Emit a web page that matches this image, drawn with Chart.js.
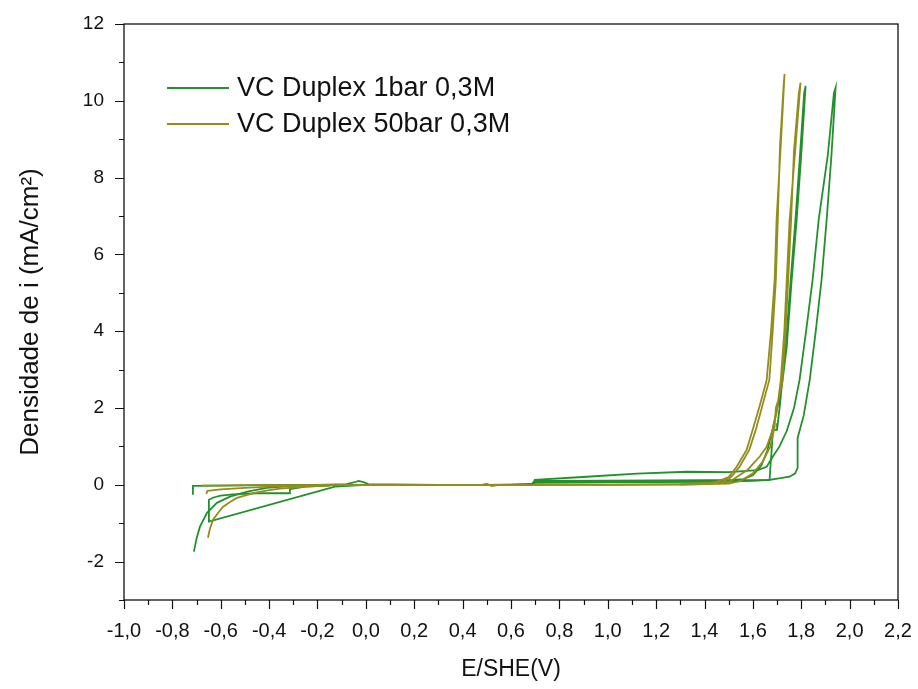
<!DOCTYPE html>
<html>
<head>
<meta charset="utf-8">
<title>VC Duplex</title>
<script src="https://cdn.jsdelivr.net/npm/chart.js@4.4.0/dist/chart.umd.min.js"></script>
<style>
  html, body { margin: 0; padding: 0; background: #fff; }
  #wrap { width: 918px; height: 689px; }
</style>
</head>
<body>
<div id="wrap"><canvas id="chart" width="918" height="689"></canvas></div>
<script>
/* ── DATA ── */
const legendLabels = ['VC Duplex 1bar 0,3M', 'VC Duplex 50bar 0,3M'];

/* 1 bar, cycle A : cathodic branch -> loop peaking at 1,82 V */
const e1barA = [-0.711, -0.700, -0.686, -0.657, -0.616, -0.562, -0.490, -0.410, -0.300, -0.200, -0.080, -0.050, -0.030, -0.010, 0.010, 0.300, 0.600, 0.680,
  0.700, 1.000, 1.300, 1.500, 1.560, 1.600, 1.635, 1.660, 1.680, 1.697, 1.718, 1.740, 1.760, 1.781, 1.800, 1.818,
  1.812, 1.795, 1.776, 1.756, 1.736, 1.722, 1.711, 1.703, 1.700, 1.682, 1.680, 1.674, 1.669, 1.640, 1.400, 1.000, 0.750, 0.700, 0.690, 0.500];
const i1barA = [-1.74, -1.40, -1.09, -0.73, -0.47, -0.31, -0.18, -0.08, -0.03, 0.00, 0.02, 0.06, 0.10, 0.07, 0.02, 0.00, 0.00, 0.01,
  0.08, 0.09, 0.10, 0.12, 0.15, 0.25, 0.50, 0.90, 1.40, 1.90, 2.47, 3.60, 5.30, 6.90, 8.60, 10.39,
  10.20, 8.60, 6.90, 5.30, 3.60, 2.73, 2.03, 1.60, 1.43, 1.43, 1.10, 0.60, 0.13, 0.12, 0.12, 0.11, 0.10, 0.10, 0.02, 0.00];

/* 1 bar, cycle B : start at -0,71 V -> loop peaking at 1,94 V -> return */
const e1barB = [-0.715, -0.715, -0.600, -0.450, -0.300, 0.000, 0.300, 0.600, 0.690, 0.700, 0.900, 1.200, 1.450, 1.600, 1.669, 1.752, 1.775, 1.785,
  1.785, 1.810, 1.835, 1.860, 1.884, 1.905, 1.925, 1.942, 1.935, 1.910, 1.872, 1.847, 1.820, 1.793, 1.770, 1.740, 1.710, 1.682, 1.657, 1.620,
  1.500, 1.327, 1.120, 0.913, 0.698, 0.690, 0.600, 0.300, 0.000, -0.128, -0.649, -0.649, -0.630, -0.600, -0.550, -0.450, -0.314, -0.314, -0.250, -0.150];
const i1barB = [-0.26, -0.03, -0.02, -0.01, 0.00, 0.00, 0.00, 0.00, 0.00, 0.05, 0.06, 0.07, 0.08, 0.10, 0.13, 0.21, 0.30, 0.44,
  1.22, 1.80, 2.73, 4.00, 5.34, 6.90, 8.60, 10.34, 10.20, 8.60, 6.90, 5.34, 4.00, 2.73, 2.00, 1.40, 1.00, 0.73, 0.47, 0.38,
  0.33, 0.34, 0.29, 0.21, 0.13, 0.03, 0.00, 0.00, 0.00, -0.05, -0.96, -0.39, -0.33, -0.28, -0.25, -0.22, -0.22, -0.11, -0.05, -0.02];

/* 50 bar, cycle A : cathodic branch -> loop peaking at 1,73 V */
const e50barA = [-0.653, -0.645, -0.632, -0.610, -0.590, -0.560, -0.533, -0.490, -0.450, -0.400, -0.355, -0.250, -0.120, 0.000, 0.300, 0.480, 0.500, 0.520, 0.550,
  1.000, 1.300, 1.400, 1.450, 1.500, 1.533, 1.574, 1.599, 1.630, 1.657, 1.675, 1.690, 1.698, 1.715, 1.731,
  1.727, 1.712, 1.703, 1.695, 1.682, 1.668, 1.612, 1.585, 1.545, 1.510, 1.470, 1.300, 1.000, 0.500, 0.000, -0.400, -0.680];
const i50barA = [-1.38, -1.15, -0.91, -0.72, -0.57, -0.44, -0.34, -0.26, -0.20, -0.14, -0.10, -0.05, -0.01, 0.00, 0.00, 0.00, 0.03, -0.03, 0.00,
  0.00, 0.01, 0.02, 0.08, 0.20, 0.47, 0.91, 1.43, 2.10, 2.73, 4.00, 5.34, 6.90, 8.80, 10.70,
  10.40, 8.80, 6.90, 5.34, 4.00, 2.73, 1.43, 0.91, 0.47, 0.20, 0.06, 0.02, 0.00, 0.00, 0.00, -0.01, -0.02];

/* 50 bar, cycle B : loop peaking at 1,80 V */
const e50barB = [-0.660, -0.655, -0.600, -0.500, -0.400, -0.200, 0.000, 0.600, 1.000, 1.450, 1.504, 1.580, 1.630, 1.657, 1.680, 1.698, 1.715, 1.730, 1.740, 1.752, 1.775, 1.797,
  1.790, 1.770, 1.758, 1.746, 1.735, 1.722, 1.705, 1.695, 1.690, 1.672, 1.640, 1.600, 1.550, 1.500, 1.300];
const i50barB = [-0.24, -0.16, -0.12, -0.08, -0.05, -0.01, 0.00, 0.00, 0.00, 0.02, 0.08, 0.40, 0.75, 0.99, 1.40, 1.87, 2.70, 4.00, 5.34, 6.90, 8.70, 10.47,
  10.20, 8.70, 6.90, 5.34, 4.00, 2.70, 2.20, 2.00, 1.50, 0.99, 0.60, 0.30, 0.10, 0.03, 0.00];

/* ── AXES ── */
const xMin = -1.0, xMax = 2.2, xStep = 0.2;
const yMin = -3,  yMax = 12,  yStep = 1;

/* ── STYLE ── */
const GREEN = '#23912b';
const OLIVE = '#948d1e';
const FONT  = 'Liberation Sans, Arial, sans-serif';

function toPoints(es, is) {
  return es.map((e, k) => ({ x: e, y: is[k] }));
}

function curve(es, is, color) {
  return {
    data: toPoints(es, is),
    showLine: true,
    borderColor: color,
    backgroundColor: color,
    borderWidth: 1.8,
    pointRadius: 0,
    tension: 0
  };
}

function commaLabel(v) {
  if (Math.abs(v) < 1e-9) return '0,0';
  return v.toFixed(1).replace('.', ',');
}

/* frame + major/minor ticks, Origin style */
const framePlugin = {
  id: 'frame',
  afterDraw(chart) {
    const { ctx, chartArea: a, scales: { x, y } } = chart;
    ctx.save();
    ctx.strokeStyle = '#111';
    ctx.lineWidth = 1.3;
    ctx.strokeRect(a.left, a.top, a.right - a.left, a.bottom - a.top);

    ctx.lineWidth = 1.2;
    ctx.beginPath();
    for (let v = xMin; v <= xMax + 1e-9; v += xStep / 2) {
      const k = Math.round((v - xMin) / (xStep / 2));
      const px = Math.round(x.getPixelForValue(v)) + 0.5;
      const len = k % 2 === 0 ? 9 : 5;
      ctx.moveTo(px, a.bottom);
      ctx.lineTo(px, a.bottom + len);
    }
    for (let v = yMin; v <= yMax; v += yStep) {
      const py = Math.round(y.getPixelForValue(v)) + 0.5;
      const len = v % 2 === 0 ? 9 : 5;
      ctx.moveTo(a.left, py);
      ctx.lineTo(a.left - len, py);
    }
    ctx.stroke();
    ctx.restore();
  }
};

/* legend drawn inside the plot, top-left */
const legendPlugin = {
  id: 'insideLegend',
  afterDraw(chart) {
    const { ctx } = chart;
    const colors = [GREEN, OLIVE];
    const rows = [88, 124];
    ctx.save();
    ctx.font = '27px ' + FONT;
    ctx.textBaseline = 'middle';
    ctx.fillStyle = '#111';
    legendLabels.forEach((lab, k) => {
      ctx.strokeStyle = colors[k];
      ctx.lineWidth = 2;
      ctx.beginPath();
      ctx.moveTo(167, rows[k]);
      ctx.lineTo(229, rows[k]);
      ctx.stroke();
      ctx.fillText(lab, 237, rows[k] + 1);
    });
    ctx.restore();
  }
};

new Chart(document.getElementById('chart').getContext('2d'), {
  type: 'scatter',
  data: {
    datasets: [
      curve(e50barA, i50barA, OLIVE),
      curve(e50barB, i50barB, OLIVE),
      curve(e1barA, i1barA, GREEN),
      curve(e1barB, i1barB, GREEN)
    ]
  },
  options: {
    responsive: false,
    devicePixelRatio: 1,
    animation: false,
    layout: { padding: { top: 24, right: 20, left: 0, bottom: 0 } },
    plugins: {
      legend:  { display: false },
      tooltip: { enabled: false }
    },
    scales: {
      x: {
        type: 'linear',
        min: xMin,
        max: xMax,
        grid:   { display: false, drawTicks: false },
        border: { display: false },
        ticks: {
          stepSize: xStep,
          autoSkip: false,
          maxRotation: 0,
          padding: 19,
          color: '#111',
          font: { family: FONT, size: 20 },
          callback: v => commaLabel(v)
        },
        title: {
          display: true,
          text: 'E/SHE(V)',
          color: '#111',
          font: { family: FONT, size: 23 },
          padding: { top: 6, bottom: 6 }
        },
        afterFit(scale) {
          scale.height = 89;
          scale.paddingLeft = 0;
          scale.paddingRight = 0;
        }
      },
      y: {
        type: 'linear',
        min: yMin,
        max: yMax,
        grid:   { display: false, drawTicks: false },
        border: { display: false },
        ticks: {
          stepSize: yStep,
          autoSkip: false,
          padding: 20,
          color: '#111',
          font: { family: FONT, size: 19 },
          callback: v => (v % 2 === 0 ? String(v) : '')
        },
        title: {
          display: true,
          text: 'Densidade de i (mA/cm²)',
          color: '#111',
          font: { family: FONT, size: 26 },
          padding: { top: 15, bottom: 15 }
        },
        afterFit(scale) {
          scale.width = 124;
          scale.paddingTop = 0;
          scale.paddingBottom = 0;
        }
      }
    }
  },
  plugins: [framePlugin, legendPlugin]
});
</script>
</body>
</html>
